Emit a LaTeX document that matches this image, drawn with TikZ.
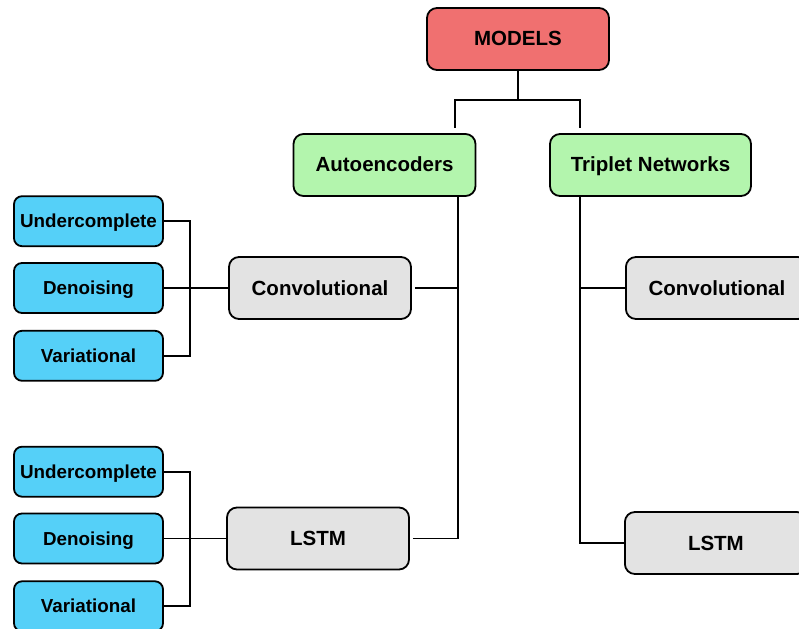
\documentclass[tikz,border=0pt]{standalone}
\usepackage{fontspec}
\setmainfont{Liberation Sans}
\usetikzlibrary{positioning}
\definecolor{modelred}{HTML}{F07070}
\definecolor{familygreen}{HTML}{B3F5AD}
\definecolor{archgray}{HTML}{E3E3E3}
\definecolor{variantblue}{HTML}{55D0F8}

\begin{document}
\begin{tikzpicture}[
    x=1pt, y=-1pt,
    box/.style={draw, rounded corners=10pt, line width=1.8pt, minimum width=182pt, minimum height=62pt, text height=14.5pt, text depth=0.5pt, font=\fontsize{20.5}{24}\selectfont\bfseries},
    leaf/.style={draw, rounded corners=8pt, line width=1.8pt, minimum width=149pt, minimum height=50pt, inner sep=1pt, text height=13.5pt, text depth=0.5pt, fill=variantblue, font=\fontsize{18.8}{22}\selectfont\bfseries},
    link/.style={line width=1.8pt},
]
\useasboundingbox (0,0) rectangle (799,628);

% top levels
\node[box, fill=modelred] (models) at (518,39) {MODELS};
\node[box, fill=familygreen] (auto) at (384.5,165) {Autoencoders};
\node[box, fill=familygreen, minimum width=201pt] (triplet) at (650.5,165) {Triplet Networks};

% architectures
\node[box, fill=archgray] (aconv) at (320,288) {Convolutional};
\node[box, fill=archgray] (alstm) at (318,538.5) {LSTM};
\node[box, fill=archgray, anchor=west] (tconv) at (625,288) {Convolutional};
\node[box, fill=archgray, anchor=west] (tlstm) at (624,543) {LSTM};

% variants
\node[leaf] (aden) at (88.5,288) {Denoising};
\node[leaf, above=15pt of aden] (aund) {Undercomplete};
\node[leaf, below=16pt of aden] (avar) {Variational};

\node[leaf] (lden) at (88.5,538.5) {Denoising};
\node[leaf, above=15pt of lden] (lund) {Undercomplete};
\node[leaf, below=16pt of lden] (lvar) {Variational};

% tree lines
\coordinate (autotop) at (455,128);
\coordinate (triptop) at (580,128);
\draw[link] (models.south) -- ++(0,29) coordinate (split);
\draw[link] (autotop) |- (split) -| (triptop);

\draw[link] ([xshift=73.5pt]auto.south) coordinate (atop) -- (atop |- alstm.east);
\draw[link] ([xshift=3pt]aconv.east) -- (aconv.east -| atop);
\draw[link] ([xshift=3pt]alstm.east) -- (alstm.east -| atop);

\draw[link] ([xshift=-70.5pt]triplet.south) coordinate (ttop) -- (ttop |- tlstm.west) -- (tlstm.west);
\draw[link] (tconv.west -| ttop) -- (tconv.west);

\draw[link] (aund.east) -- ++(26,0) |- (avar.east);
\draw[link] (aden.east) -- (aconv.west);
\draw[link] (lund.east) -- ++(26,0) |- (lvar.east);
\draw[link] (lden.east) -- (alstm.west);
\end{tikzpicture}
\end{document}
